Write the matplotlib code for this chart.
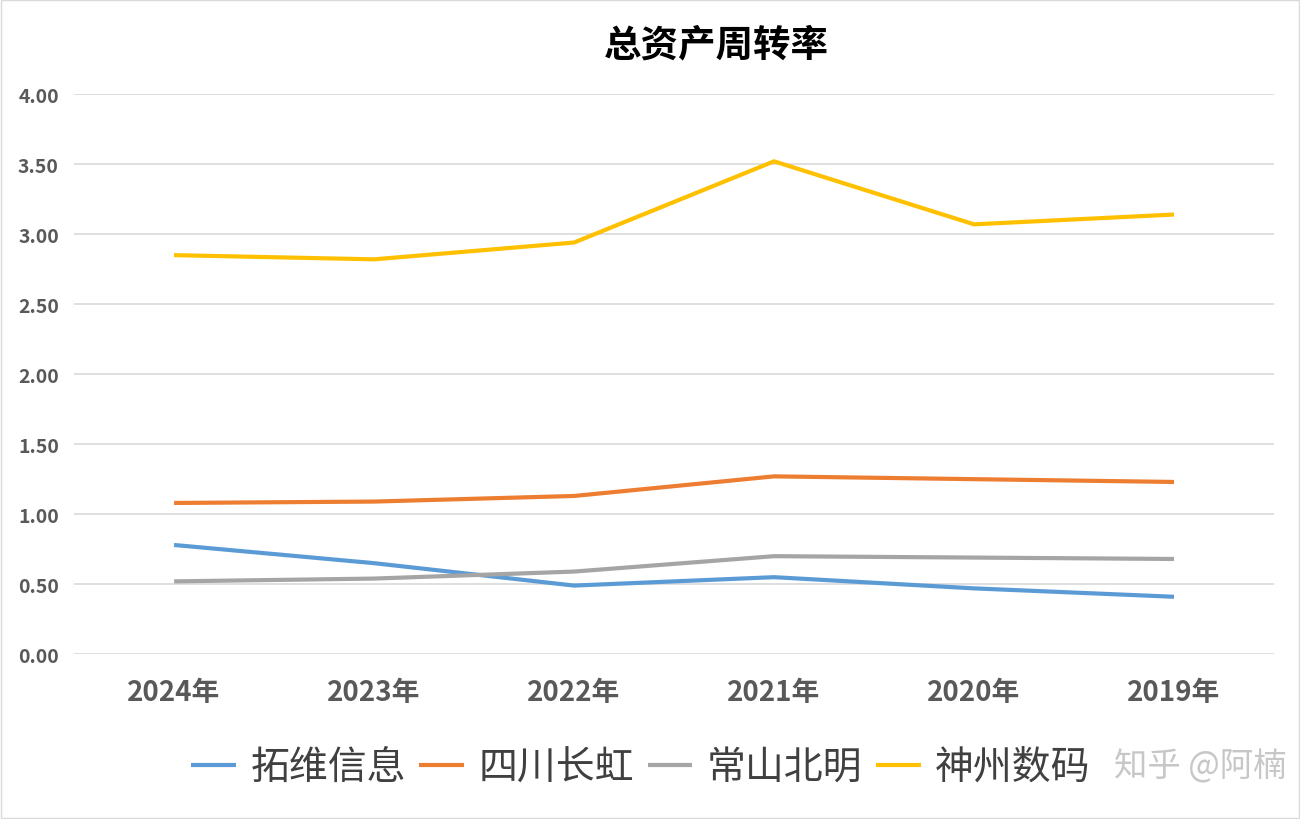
import matplotlib
matplotlib.use('Agg')

import numpy as np
import matplotlib.pyplot as plt

plt.rcParams['font.family'] = ['Noto Sans CJK SC', 'DejaVu Sans']

years = ['2024年', '2023年', '2022年', '2021年', '2020年', '2019年']
tuowei = [0.78, 0.65, 0.49, 0.55, 0.47, 0.41]
sichuan = [1.08, 1.09, 1.13, 1.27, 1.25, 1.23]
changshan = [0.52, 0.54, 0.59, 0.70, 0.69, 0.68]
shenzhou = [2.85, 2.82, 2.94, 3.52, 3.07, 3.14]

names = ['拓维信息', '四川长虹', '常山北明', '神州数码']
colors = ['#5B9BD5', '#ED7D31', '#A5A5A5', '#FFC000']

fig = plt.figure(figsize=(13, 8.2), dpi=100)
ax = fig.add_axes([0.057, 0.201, 0.923, 0.683])

x = np.arange(len(years))
for vals, name, c in zip([tuowei, sichuan, changshan, shenzhou], names, colors):
    ax.plot(x, vals, color=c, linewidth=3, label=name, solid_capstyle='butt')

ax.set_xlim(-0.5, 5.5)
ax.set_ylim(0, 4)
ax.set_yticks(np.arange(0, 4.01, 0.5))
ax.set_yticklabels(['%.2f' % v for v in np.arange(0, 4.01, 0.5)])
ax.set_xticks(x)
ax.set_xticklabels(years)
ax.yaxis.grid(True, color='#d9d9d9', linewidth=1.2)
ax.set_axisbelow(True)
for s in ax.spines.values():
    s.set_visible(False)
ax.tick_params(length=0)
ax.tick_params(axis='y', labelsize=14, labelcolor='#595959', pad=11)
ax.tick_params(axis='x', labelsize=20, labelcolor='#595959', pad=17)
for lab in ax.get_yticklabels() + ax.get_xticklabels():
    lab.set_fontweight('bold')

fig.text(0.551, 0.945, '总资产周转率', ha='center', va='center', fontsize=27,
         fontweight='bold', color='#000000')

fig.legend(loc='center', bbox_to_anchor=(0.493, 0.063), ncol=4, frameon=False,
           fontsize=28, handlelength=1.15, columnspacing=0.35, handletextpad=0.37,
           labelcolor='#404040')

# watermark, kept just clear of the legend
fig.text(0.99, 0.065, '知乎 @阿楠', ha='right', va='center', fontsize=24,
         color='#bdbdbd', alpha=0.85)

fig.patches.append(plt.Rectangle((0.001, 0.001), 0.998, 0.998, transform=fig.transFigure,
                                 fill=False, edgecolor='#d9d9d9', linewidth=1))

plt.savefig('out.png', dpi=100)
